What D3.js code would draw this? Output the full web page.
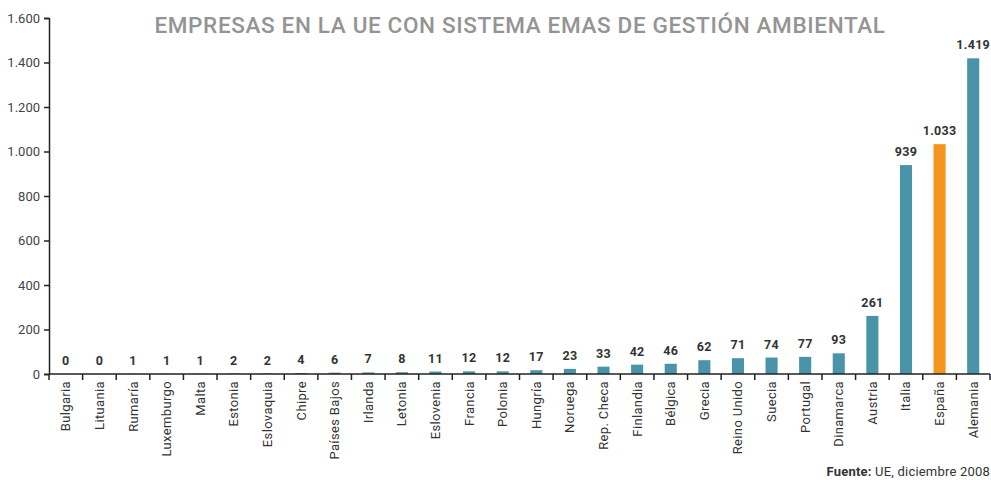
<!DOCTYPE html>
<html>
<head>
<meta charset="utf-8">
<script src="https://cdn.jsdelivr.net/npm/d3@7"></script>
<style>
  body { margin: 0; background: #fff; }
  svg { display: block; font-family: Roboto, "DejaVu Sans", sans-serif; }
</style>
</head>
<body>
<svg id="chart" width="991" height="480"></svg>
<script>
// empresas con EMAS por país (UE, dic 2008)
const countries = ["Bulgaria", "Lituania", "Rumaría", "Luxemburgo", "Malta", "Estonia", "Eslovaquia",
    "Chipre", "Países Bajos", "Irlanda", "Letonia", "Eslovenia", "Francia", "Polonia", "Hungría",
    "Noruega", "Rep. Checa", "Finlandia", "Bélgica", "Grecia", "Reino Unido", "Suecia", "Portugal",
    "Dinamarca", "Austria", "Italia", "España", "Alemania"];
const values = [0, 0, 1, 1, 1, 2, 2, 4, 6, 7, 8, 11, 12, 12, 17, 23, 33, 42, 46, 62, 71, 74, 77, 93,
    261, 939, 1033, 1419];
const yTicks = [0, 200, 400, 600, 800, 1000, 1200, 1400, 1600];
const highlight = "España";

const width = 991;
const height = 480;
const teal = "#4a94a9";
const orange = "#f7941d";

const fmt = d3.formatLocale({ decimal: ",", thousands: ".", grouping: [3], currency: ["", "€"] }).format(",");

const x = d3.scaleBand().domain(countries).range([49, 990]).paddingInner(0.64).paddingOuter(0.32);
const y = d3.scaleLinear().domain([0, 1600]).range([374, 18]);

const svg = d3.select("#chart");

// title
svg.append("text")
    .attr("x", 520)
    .attr("y", 33)
    .attr("text-anchor", "middle")
    .attr("fill", "#949494")
    .attr("font-size", "22.5px")
    .attr("font-weight", 500)
    .attr("letter-spacing", "0.65px")
    .text("EMPRESAS EN LA UE CON SISTEMA EMAS DE GESTIÓN AMBIENTAL");

// bars
svg.selectAll(".bar")
    .data(values)
    .join("rect")
    .attr("class", "bar")
    .attr("x", (d, i) => x(countries[i]))
    .attr("width", x.bandwidth())
    .attr("y", d => y(d))
    .attr("height", d => y(0) - y(d))
    .attr("fill", (d, i) => countries[i] === highlight ? orange : teal);

// value labels
svg.selectAll(".val")
    .data(values)
    .join("text")
    .attr("class", "val")
    .attr("x", (d, i) => x(countries[i]) + x.bandwidth() / 2)
    .attr("y", d => y(d) - 9)
    .attr("text-anchor", "middle")
    .attr("font-size", "12.5px")
    .attr("font-weight", 700)
    .attr("letter-spacing", "0.3px")
    .attr("fill", "#333")
    .text(d => fmt(d));

// y axis
const yAxis = svg.append("g")
    .attr("transform", "translate(49,0)")
    .call(d3.axisLeft(y).tickValues(yTicks).tickSize(5).tickPadding(4).tickFormat(fmt));
yAxis.select(".domain").attr("stroke", "#222").attr("stroke-width", 1.5);
yAxis.selectAll(".tick line").attr("stroke", "#222").attr("stroke-width", 1.5);
yAxis.selectAll("text")
    .attr("fill", "#444")
    .style("font-size", "13px")
    .style("font-family", "Roboto, sans-serif");

// x axis: line plus ticks on band boundaries
const xAxis = svg.append("g");
xAxis.append("line")
    .attr("x1", 49).attr("x2", 990)
    .attr("y1", y(0)).attr("y2", y(0))
    .attr("stroke", "#222").attr("stroke-width", 1.5);
const step = x.step();
xAxis.selectAll(".xt")
    .data(d3.range(countries.length + 1))
    .join("line")
    .attr("class", "xt")
    .attr("x1", i => 49 + i * step)
    .attr("x2", i => 49 + i * step)
    .attr("y1", y(0))
    .attr("y2", y(0) + 6)
    .attr("stroke", "#222").attr("stroke-width", 1.5);

xAxis.selectAll(".xl")
    .data(countries)
    .join("text")
    .attr("class", "xl")
    .attr("transform", d => `translate(${x(d) + x.bandwidth() / 2 + 4.5},${y(0) + 7}) rotate(-90)`)
    .attr("text-anchor", "end")
    .attr("font-size", "13px")
    .attr("letter-spacing", "0.35px")
    .attr("fill", "#333")
    .text(d => d);

// source
const src = svg.append("text")
    .attr("x", 990)
    .attr("y", 476)
    .attr("text-anchor", "end")
    .attr("font-size", "13px")
    .attr("letter-spacing", "0.2px")
    .attr("fill", "#333");
src.append("tspan").attr("font-weight", 700).text("Fuente:");
src.append("tspan").text(" UE, diciembre 2008");
</script>
</body>
</html>
